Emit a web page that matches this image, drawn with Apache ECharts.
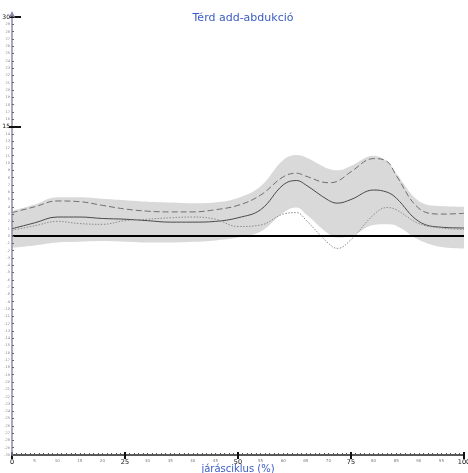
<!DOCTYPE html>
<html>
<head>
<meta charset="utf-8">
<script src="https://cdn.jsdelivr.net/npm/echarts@6/dist/echarts.min.js"></script>
<style>
html,body{margin:0;padding:0;background:#fff}
#chart{width:468px;height:473px}
</style>
</head>
<body>
<div id="chart"></div>
<script>
// jarasciklus (%) pontok
var pct      = [0,   5,   10,  15,  20,  25,  30,  35,  40,  45,  50,  55,  60,  63,  65,  70,  72,  75,  80,  83,  85,  90,  95,  100];
// normal tartomany (szurke sav)
var upperVals = [3.4, 4.3, 5.3, 5.3, 5.1, 4.9, 4.7, 4.6, 4.5, 4.6, 5.2, 6.8, 10.4,11.1,10.8,9.2, 9.0, 9.6, 11.0,10.2,8.6, 4.8, 4.1, 4.0];
var lowerVals = [-1.6,-1.3,-0.9,-0.8,-0.7,-0.8,-0.9,-0.9,-0.8,-0.6,-0.2,0.6, 3.2, 3.9, 3.0, 0.3,-0.2, 0.0, 1.5, 1.6, 1.4,-0.5,-1.5,-1.7];
// gorbek
var meanVals   = [1.0, 1.8, 2.6, 2.6, 2.4, 2.3, 2.1, 1.9, 1.9, 2.0, 2.5, 3.6, 7.0, 7.6, 7.0, 4.9, 4.5, 5.0, 6.3, 6.0, 5.2, 2.0, 1.2, 1.1];
var dashedVals = [3.2, 4.0, 4.8, 4.7, 4.2, 3.7, 3.4, 3.3, 3.3, 3.6, 4.2, 5.6, 8.1, 8.6, 8.2, 7.3, 7.5, 8.8, 10.6,10.2,8.3, 3.8, 3.0, 3.1];
var dottedVals = [0.8, 1.4, 2.0, 1.7, 1.6, 2.1, 2.3, 2.5, 2.6, 2.3, 1.3, 1.5, 3.0, 3.2, 2.2, -1.0,-1.7,-0.5,2.9, 3.9, 3.6, 1.7, 1.1, 0.9];

var xMajor = [0, 25, 50, 75, 100];
var yMajor = [15, 30];

function pairs(arr){
    var out = [];
    for(var i=0;i<pct.length;i++){
        out.push([pct[i], arr[i]]);
    }
    return out;
}

var blue = '#3b5cc4';
var font = 'DejaVu Sans';

var myChart = echarts.init(document.getElementById('chart'));
var option = {
    animation:false,
    title:{
        text:'Térd add-abdukció',
        left:238, top:8, textAlign:'center',
        textStyle:{color:blue, fontSize:11, fontWeight:'normal', fontFamily:font}
    },
    grid:{left:12, right:4, top:17, bottom:18, outerBoundsMode:'none', containLabel:false},
    xAxis:[
        {
            type:'value', min:0, max:100, interval:1,
            name:'járásciklus (%)', nameLocation:'middle', nameGap:9, nameMoveOverlap:false,
            nameTextStyle:{color:blue, fontSize:10, fontFamily:font},
            splitLine:{show:false},
            axisLine:{onZero:false, lineStyle:{color:'#222', width:1.5}},
            axisTick:{inside:true, length:2, lineStyle:{color:'#555'}},
            axisLabel:{
                margin:4,
                formatter:function(v){
                    if(v%25==0) return '{b|'+v+'}';
                    if(v%5==0) return '{s|'+v+'}';
                    return '';
                },
                rich:{
                    b:{fontSize:6.5, color:'#111', fontFamily:font},
                    s:{fontSize:4, color:'#777', fontFamily:font}
                }
            }
        },
        {
            type:'value', min:0, max:100, position:'bottom',
            axisLine:{show:false, onZero:false}, splitLine:{show:false}, axisLabel:{show:false},
            axisTick:{inside:false, length:4, customValues:xMajor, lineStyle:{color:'#111', width:2}}
        },
        {
            type:'value', min:0, max:100, position:'bottom',
            axisLine:{show:false, onZero:false}, splitLine:{show:false}, axisLabel:{show:false},
            axisTick:{inside:true, length:3, customValues:xMajor, lineStyle:{color:'#111', width:2}}
        }
    ],
    yAxis:[
        {
            type:'value', min:-30, max:30, interval:1, z:10,
            splitLine:{show:false},
            axisLine:{show:true, onZero:false, symbol:['none','arrow'], symbolSize:[5,7], symbolOffset:[0,6],
                lineStyle:{color:'#8a8aa8', width:1.5}},
            axisTick:{inside:true, length:2, lineStyle:{color:'#666'}},
            axisLabel:{
                margin:2,
                formatter:function(v){
                    if(yMajor.indexOf(v)>=0) return '{b|'+v+'}';
                    return '{s|'+v+'}';
                },
                rich:{
                    b:{fontSize:6, color:'#111', fontFamily:font},
                    s:{fontSize:3.5, color:'#888', fontFamily:font}
                }
            }
        },
        {
            type:'value', min:-30, max:30, position:'left', z:10,
            axisLine:{show:false, onZero:false}, splitLine:{show:false}, axisLabel:{show:false},
            axisTick:{inside:true, length:9, customValues:yMajor, lineStyle:{color:'#111', width:2}}
        },
        {
            type:'value', min:-30, max:30, position:'left', z:10,
            axisLine:{show:false, onZero:false}, splitLine:{show:false}, axisLabel:{show:false},
            axisTick:{inside:false, length:3, customValues:yMajor, lineStyle:{color:'#111', width:2}}
        }
    ],
    series:[
        {
            // szurke sav felso szele, lefele kitoltve
            name:'upper', type:'line', smooth:0.4, symbol:'none', z:1,
            lineStyle:{opacity:0},
            areaStyle:{color:'#d9d9d9', opacity:1, origin:-29},
            data:pairs(upperVals)
        },
        {
            // also szel alatt feherrel takarjuk
            name:'lower', type:'line', smooth:0.4, symbol:'none', z:2,
            lineStyle:{opacity:0},
            areaStyle:{color:'#ffffff', opacity:1, origin:-29.4},
            data:pairs(lowerVals)
        },
        {
            name:'dashed', type:'line', smooth:0.4, symbol:'none', z:3,
            lineStyle:{color:'#6f6f6f', width:1, type:[6,3]},
            data:pairs(dashedVals)
        },
        {
            name:'mean', type:'line', smooth:0.4, symbol:'none', z:3,
            lineStyle:{color:'#4a4a4a', width:1},
            data:pairs(meanVals),
            markLine:{
                silent:true, symbol:'none', label:{show:false},
                lineStyle:{color:'#000', width:2, type:'solid'},
                data:[{yAxis:0}]
            }
        },
        {
            name:'dotted', type:'line', smooth:0.4, symbol:'none', z:3,
            lineStyle:{color:'#8c8c8c', width:1, type:[1.5,1.5]},
            data:pairs(dottedVals)
        }
    ]
};
myChart.setOption(option);
</script>
</body>
</html>
